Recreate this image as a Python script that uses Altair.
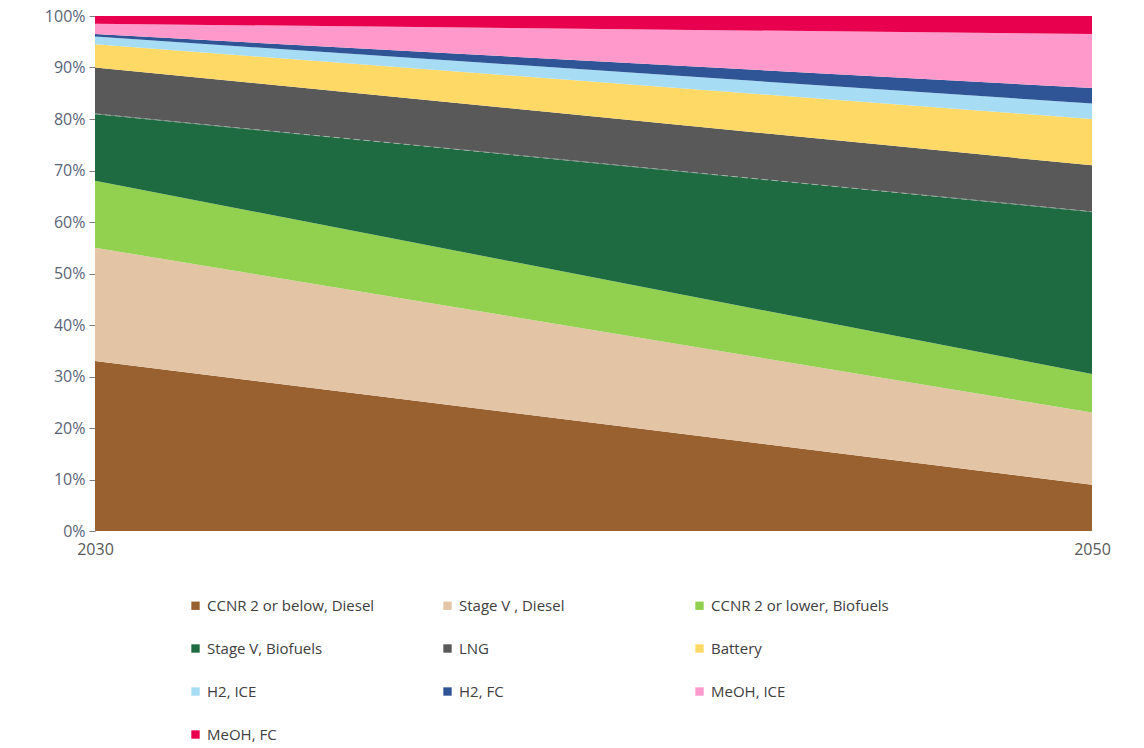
import altair as alt
import pandas as pd

years = [2030, 2050]
categories = [
    "CCNR 2 or below, Diesel",
    "Stage V , Diesel",
    "CCNR 2 or lower, Biofuels",
    "Stage V, Biofuels",
    "LNG",
    "Battery",
    "H2, ICE",
    "H2, FC",
    "MeOH, ICE",
    "MeOH, FC",
]
share_2030 = [33, 22, 13, 13, 9, 4.5, 1.5, 0.5, 2, 1.5]
share_2050 = [9, 14, 7.5, 31.5, 9, 9, 3, 3, 10.5, 3.5]
colors = ["#9A6130", "#E3C5A6", "#92D050", "#1E6B42", "#595959",
          "#FFD966", "#A6DDF5", "#2F5597", "#FF99CC", "#E8004F"]

rows = []
for i, c in enumerate(categories):
    rows.append({"year": years[0], "cat": c, "idx": i, "v": share_2030[i] / 100})
    rows.append({"year": years[1], "cat": c, "idx": i, "v": share_2050[i] / 100})
df = pd.DataFrame(rows)

# dashed boundary on top of "Stage V, Biofuels"
line_df = pd.DataFrame({
    "year": years,
    "v": [sum(share_2030[:4]) / 100, sum(share_2050[:4]) / 100],
})

font = "Open Sans"

area = alt.Chart(df).mark_area(interpolate="linear").encode(
    x=alt.X("year:Q", scale=alt.Scale(domain=[2030, 2050], nice=False, zero=False),
            axis=alt.Axis(values=years, format="d", title=None, domain=False, ticks=False,
                          grid=False, labelFontSize=16, labelColor="#595959", labelFont=font,
                          labelPadding=10, labelFlush=False)),
    y=alt.Y("v:Q", stack="zero", scale=alt.Scale(domain=[0, 1], nice=False),
            axis=alt.Axis(values=[i / 10 for i in range(11)], format=".0%", title=None,
                          grid=False, domainColor="#8FAADC", domainWidth=1,
                          tickColor="#7F7F7F", tickSize=6, labelFontSize=16,
                          labelColor="#5A6478", labelFont=font, labelPadding=4)),
    color=alt.Color("cat:N", scale=alt.Scale(domain=categories, range=colors),
                    legend=alt.Legend(title=None, orient="none", legendX=93, legendY=582,
                                      columns=3, gridAlign="all", columnPadding=55,
                                      rowPadding=27, symbolType="square", symbolSize=70,
                                      symbolStrokeWidth=0, labelFontSize=15,
                                      labelColor="#404040", labelFont=font,
                                      labelLimit=400, direction="horizontal")),
    order=alt.Order("idx:Q", sort="ascending"),
)

dash = alt.Chart(line_df).mark_line(strokeDash=[6, 4], color="#9FB3A8", strokeWidth=1).encode(
    x="year:Q",
    y="v:Q",
)

chart = alt.layer(area, dash).properties(
    width=997,
    height=515,
    padding={"left": 95, "top": 16, "right": 52, "bottom": 217},
    autosize=alt.AutoSizeParams(type="none"),
    background="white",
).configure_view(stroke=None)

chart.save("out.html", embed_options={"renderer": "svg", "actions": False})
